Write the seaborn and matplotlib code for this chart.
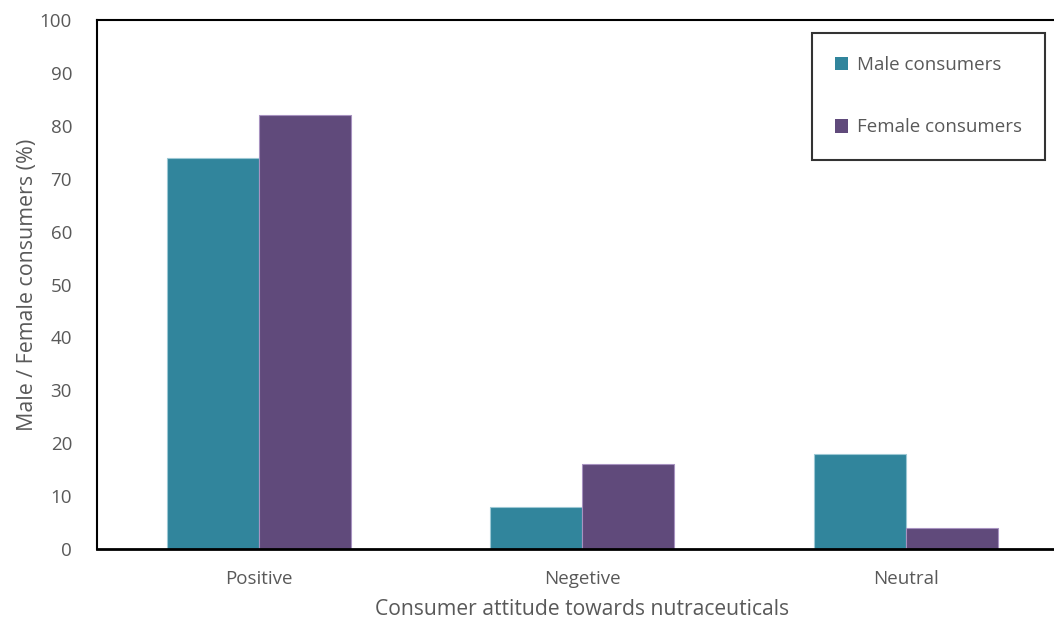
import matplotlib
matplotlib.use("Agg")
import matplotlib.pyplot as plt
import seaborn as sns
import pandas as pd

categories = ["Positive", "Negetive", "Neutral"]
male_values = [74, 8, 18]
female_values = [82, 16, 4]
series_names = ["Male consumers", "Female consumers"]
y_ticks = [0, 10, 20, 30, 40, 50, 60, 70, 80, 90, 100]

df = pd.DataFrame({
    "attitude": categories * 2,
    "group": [series_names[0]] * len(categories) + [series_names[1]] * len(categories),
    "value": male_values + female_values,
})

sns.set_theme(style="white")
plt.rcParams["font.family"] = ["Open Sans", "DejaVu Sans"]
text_color = "#595959"

W, H = 1054, 623
fig = plt.figure(figsize=(W / 100, H / 100), dpi=100)
# plot area runs slightly past the right edge of the canvas
ax = fig.add_axes([97 / W, 1 - 549 / H, 970.5 / W, 529 / H])

palette = {series_names[0]: "#31859C", series_names[1]: "#604A7B"}
sns.barplot(data=df, x="attitude", y="value", hue="group", order=categories,
            hue_order=series_names, palette=palette, width=0.57, gap=0,
            saturation=1, ax=ax, legend=True)

edge = {series_names[0]: "#9cc8d4", series_names[1]: "#a792c0"}
for container, name in zip(ax.containers, series_names):
    for bar in container:
        bar.set_edgecolor(edge[name])
        bar.set_linewidth(0.8)

ax.set_ylim(0, 100)
ax.set_xlim(-0.5, len(categories) - 0.5)
ax.set_yticks(y_ticks)
ax.set_yticklabels([str(v) for v in y_ticks], fontsize=13.5, color=text_color)
ax.tick_params(axis="y", length=0, pad=18)

# category labels centred, tick marks at category boundaries
ax.set_xticks(range(len(categories)))
ax.set_xticklabels(categories, fontsize=13.5, color=text_color)
ax.tick_params(axis="x", which="major", length=0, pad=15)
ax.set_xticks([i - 0.5 for i in range(len(categories) + 1)], minor=True)
ax.tick_params(axis="x", which="minor", length=6, width=1.5, color="black", direction="out")

for side in ["left", "bottom", "top", "right"]:
    ax.spines[side].set_visible(True)
    ax.spines[side].set_color("black")
ax.spines["left"].set_linewidth(1.5)
ax.spines["bottom"].set_linewidth(2)
ax.spines["top"].set_linewidth(1.5)
ax.spines["right"].set_linewidth(1.5)

ax.set_xlabel("Consumer attitude towards nutraceuticals", fontsize=15.2,
              color=text_color, labelpad=8)
ax.set_ylabel("Male / Female consumers (%)", fontsize=15.4, color=text_color, labelpad=1)

leg = ax.legend(loc="upper right", bbox_to_anchor=(1045 / W, 1 - 33 / H),
                bbox_transform=fig.transFigure, fontsize=13.5,
                frameon=True, fancybox=False, handlelength=0.7, handleheight=0.7,
                handletextpad=0.45, labelspacing=2.35, borderpad=1.25,
                borderaxespad=0)
leg.get_frame().set_edgecolor("black")
leg.get_frame().set_linewidth(1.5)
for t in leg.get_texts():
    t.set_color(text_color)
for h in leg.legend_handles:
    h.set_edgecolor("none")

fig.savefig("out.png", dpi=100)
